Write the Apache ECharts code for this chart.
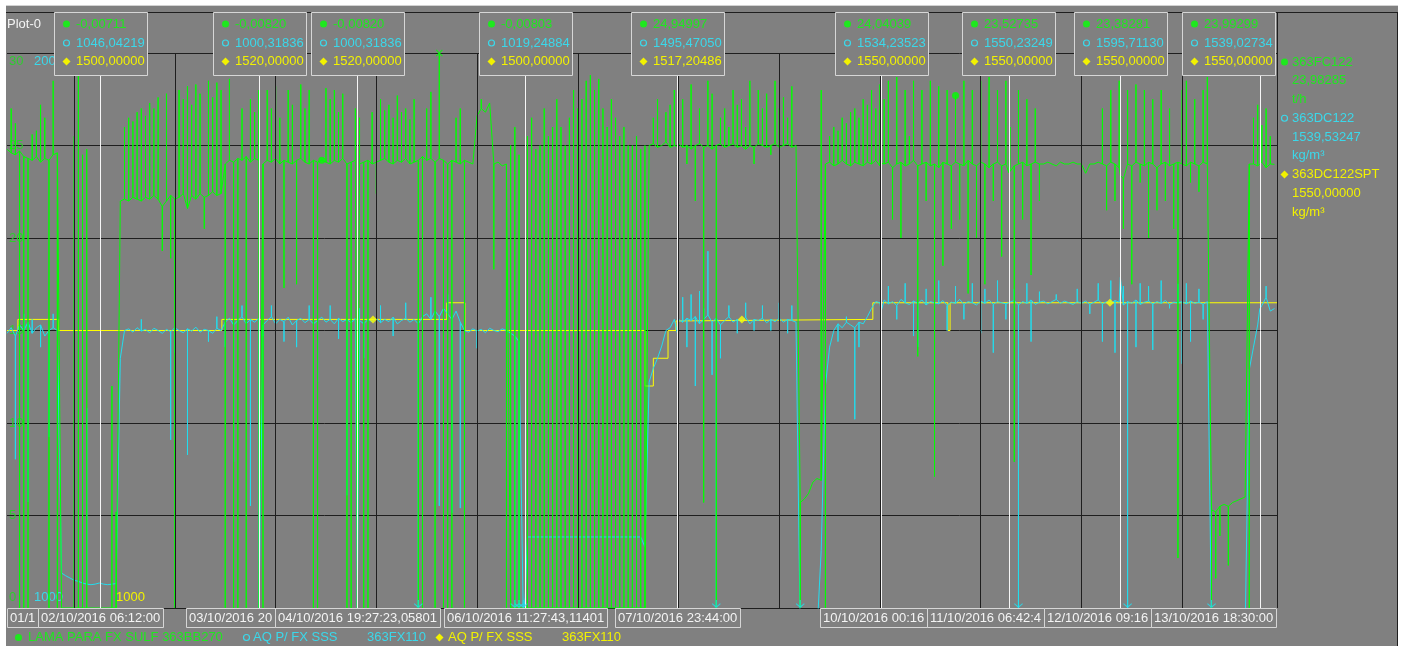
<!DOCTYPE html>
<html>
<head>
<meta charset="utf-8">
<title>Plot-0</title>
<script src="https://cdn.jsdelivr.net/npm/echarts@6/dist/echarts.min.js"></script>
<style>
  html, body { margin: 0; padding: 0; background: #ffffff; }
  #chart { width: 1402px; height: 646px; }
</style>
</head>
<body>
<div id="chart"></div>
<script>
// Time is counted in hours from 01/10/2016 00:00. Trend samples are hourly from 08:00.
const startHour = 8;
const axisStartHour = 8.0;
const axisEndHour = 310.6;

// 363FC122 - LAMA PARA FX SULF 363BB270 (t/h), hourly level of the trace
const greenFlow = [
  /* 01/10 08h */ 24.8, 24.6, 24.5, 24.7, 24.4, 24.3, 24.2, 24.4, 24.1, 24.3, 24.2, 24.5, 24.6, 0, 0, 0,
  /* 02/10 */ 0, 0, 0, 0, 0, 0, 0, 0, 0, 0, 0, 22.0, 22.1, 22.0, 22.2, 22.1, 22.0, 22.2, 22.1, 22.3, 22.1, 21.7, 22.0, 22.3,
  /* 03/10 */ 22.1, 22.2, 22.4, 21.6, 22.3, 22.1, 22.4, 22.2, 22.3, 22.5, 22.3, 22.4, 24.0, 24.2, 24.1, 24.3, 24.2, 24.4, 24.1, 24.3, 24.2, 24.0, 24.2, 24.1,
  /* 04/10 */ 24.3, 24.0, 24.2, 24.1, 24.0, 24.2, 24.3, 24.1, 24.0, 24.2, 24.1, 24.2, 24.1, 24.0, 24.2, 24.1, 24.3, 24.0, 24.1, 24.2, 24.0, 24.1, 24.2, 24.0,
  /* 05/10 */ 24.1, 24.2, 24.3, 24.1, 24.0, 24.2, 24.1, 24.3, 24.0, 24.1, 24.2, 24.4, 24.2, 24.3, 24.1, 24.3, 24.2, 24.0, 24.2, 24.1, 24.0, 24.2, 24.1, 24.0,
  /* 06/10 */ 26.6, 27.0, 26.8, 27.3, 24.0, 24.1, 23.9, 24.0, 0, 0, 0, 0, 0, 0, 0, 0, 0, 0, 0, 0, 0, 0, 0, 0,
  /* 07/10 */ 0, 0, 0, 0, 0, 0, 0, 0, 0, 0, 0, 0, 0, 0, 0, 0, 0, 25.0, 25.1, 24.9, 25.0, 25.2, 24.9, 25.0,
  /* 08/10 */ 25.1, 24.9, 25.0, 24.8, 25.0, 25.1, 24.9, 25.0, 24.8, 25.0, 25.1, 24.9, 25.0, 25.1, 24.9, 25.0, 24.8, 25.0, 24.9, 25.1, 25.0, 24.9, 25.0, 25.1,
  /* 09/10 */ 24.9, 25.0, 25.1, 24.9, 25.0, 5.7, 5.9, 6.2, 6.8, 7.0, 6.9, 24.0, 24.1, 23.9, 24.0, 24.2, 24.0, 23.9, 24.1, 24.0, 23.9, 24.1, 24.0, 24.2,
  /* 10/10 */ 23.9, 24.0, 24.1, 23.8, 24.0, 24.1, 23.9, 24.0, 24.2, 23.9, 24.0, 24.1, 23.9, 24.0, 23.8, 24.1, 24.0, 23.9, 24.1, 24.0, 23.9, 24.2, 24.0, 23.9,
  /* 11/10 */ 24.1, 24.0, 23.8, 24.0, 24.1, 23.9, 24.0, 23.6, 23.9, 24.0, 24.1, 23.9, 24.0, 24.1, 24.0, 24.0, 24.1, 24.0, 23.9, 24.1, 24.0, 24.0, 24.1, 24.0,
  /* 12/10 */ 24.0, 23.5, 24.0, 24.0, 24.1, 24.0, 23.9, 24.1, 24.0, 23.8, 23.2, 24.0, 23.9, 24.1, 24.0, 23.9, 24.1, 24.0, 23.8, 24.0, 24.1, 23.9, 24.0, 24.1,
  /* 13/10 */ 24.0, 23.9, 24.1, 24.0, 23.9, 24.1, 24.0, 5.3, 5.2, 5.5, 5.6, 5.5, 5.7, 5.8, 5.9, 6.0, 24.0, 24.0, 23.9, 24.1, 23.8, 24.0, 23.98285
];

// Short excursions of 363FC122 inside an hour: [hour, value]
const greenSpikes = [
  [9, 27.0], [10, 26.2], [11, 0], [12, 0], [13, 0], [14, 25.6], [15, 25.8], [16, 27.2], [17, 26.5], [18, 0], [19, 28.5], [20, 0],
  [24, 25.5], [25, 30], [26, 24.5], [27, 24.8], [33, 12.0], [34, 5.2], [36, 26.0], [37, 26.5], [38, 26.3], [39, 26.8], [40, 27.0],
  [41, 26.6], [42, 27.3], [43, 27.0], [44, 27.6], [45, 19.3], [46, 27.8], [47, 18.9],
  [48, 0], [49, 28.0], [50, 27.5], [51, 28.2], [52, 27.2], [53, 28.3], [54, 27.8], [55, 20.5], [56, 28.5], [57, 27.6], [58, 28.4],
  [59, 28.0], [60, 0], [61, 28.6], [62, 0], [63, 0], [64, 27.0], [65, 0], [66, 27.5], [67, 26.8], [68, 28.0], [69, 0], [70, 28.0], [71, 27.0],
  [72, 28.2], [73, 26.5], [74, 17.3], [75, 28.0], [76, 27.2], [77, 17.5], [78, 28.3], [79, 27.0], [80, 28.0], [81, 0], [82, 0],
  [84, 28.1], [85, 27.5], [86, 28.0], [87, 26.8], [88, 27.8], [89, 0], [90, 0], [91, 27.0], [92, 26.5], [93, 0], [94, 0], [95, 26.8],
  [96, 22.4], [97, 27.5], [98, 26.9], [99, 27.2], [100, 26.5], [101, 27.7], [102, 26.8], [103, 27.0], [104, 26.4], [105, 27.5],
  [106, 0], [107, 0], [108, 27.0], [109, 27.9], [110, 0], [111, 30], [112, 0], [113, 0], [114, 0], [115, 26.5], [116, 27.0], [117, 0],
  [121, 27.5], [124, 18.3], [127, 0], [128, 25.0], [129, 26.0], [130, 24.5], [132, 25.5], [133, 26.5], [134, 24.8], [135, 25.0],
  [136, 27.0], [137, 25.5], [138, 26.0], [139, 27.5], [140, 26.0], [141, 25.0], [142, 26.5], [143, 28.0],
  [144, 27.0], [145, 27.5], [146, 28.5], [147, 28.8], [148, 28.0], [149, 28.6], [150, 27.0], [151, 26.0], [152, 27.5], [153, 26.5],
  [154, 25.5], [155, 26.0], [156, 25.0], [157, 25.0], [158, 25.5], [159, 24.8], [160, 25.0], [162, 26.5], [163, 27.5], [165, 26.8],
  [166, 27.2], [167, 28.0],
  [169, 27.5], [170, 24.0], [171, 28.3], [172, 22.0], [173, 27.0], [174, 5.7], [175, 28.5], [176, 27.8], [177, 0], [178, 26.5],
  [179, 27.0], [180, 26.0], [181, 28.0], [182, 27.2], [183, 27.5], [184, 26.0], [185, 28.5], [186, 24.0], [187, 28.0], [188, 27.0],
  [189, 27.8], [190, 24.5], [191, 28.5],
  [192, 27.0], [193, 27.6], [194, 26.5], [195, 28.2], [197, 0], [202, 28.0], [203, 0], [204, 25.5], [205, 26.0], [206, 25.8],
  [207, 26.5], [208, 26.2], [209, 26.8], [210, 27.0], [211, 26.5], [212, 27.5], [213, 27.2], [214, 28.0], [215, 27.0],
  [216, 28.3], [217, 27.5], [218, 28.5], [219, 21.0], [220, 28.7], [221, 20.0], [222, 28.0], [223, 25.5], [224, 28.5], [225, 13.6],
  [226, 28.0], [227, 22.0], [228, 28.5], [229, 7.1], [230, 28.2], [231, 18.5], [232, 28.0], [233, 20.5], [234, 27.7], [235, 21.0],
  [236, 28.5], [237, 17.0], [238, 28.0], [239, 20.0],
  [240, 28.5], [241, 17.5], [242, 28.7], [243, 22.0], [244, 28.0], [245, 19.0], [246, 28.5], [247, 26.0], [248, 7.9], [249, 28.0],
  [250, 21.0], [251, 27.5], [252, 18.0], [253, 27.0], [254, 22.0],
  [269, 27.0], [270, 21.5], [271, 28.0], [272, 22.0], [273, 28.5], [274, 20.5], [275, 28.0], [276, 17.5], [277, 28.3], [278, 23.0],
  [279, 28.0], [280, 20.0], [281, 27.5], [282, 21.5], [283, 28.0], [284, 22.0], [285, 27.0], [286, 20.5], [287, 2.7],
  [288, 28.0], [289, 28.5], [290, 23.0], [291, 27.5], [292, 22.5], [293, 28.0], [294, 28.7], [295, 0], [296, 1.6], [297, 3.9],
  [299, 2.3], [304, 0], [305, 26.5], [306, 27.2], [307, 26.1], [308, 27.0], [309, 25.5]
];

// 363DC122 - AQ P/ FX SSS 363FX110 density (kg/m³), hourly level of the trace
const cyanDensity = [
  /* 01/10 08h */ 1495, 1505, 1490, 1510, 1500, 1515, 1495, 1505, 1510, 1490, 1500, 1505, 1500, 1063, 1058, 1054,
  /* 02/10 */ 1050, 1048, 1045, 1043, 1042, 1043, 1045, 1043, 1042, 1043, 1044, 1450, 1500, 1503, 1497, 1505, 1499, 1502, 1496, 1504, 1500, 1495, 1502, 1498,
  /* 03/10 */ 1505, 1500, 1496, 1503, 1499, 1506, 1497, 1502, 1500, 1495, 1504, 1500, 1515, 1522, 1510, 1518, 1525, 1512, 1520, 1515, 1522, 1510, 1518, 1525,
  /* 04/10 */ 1512, 1520, 1516, 1524, 1510, 1518, 1522, 1514, 1520, 1512, 1518, 1524, 1515, 1520, 1512, 1522, 1516, 1520, 1514, 1522, 1518, 1512, 1520, 1516,
  /* 05/10 */ 1522, 1514, 1520, 1516, 1524, 1512, 1518, 1522, 1515, 1520, 1512, 1525, 1530, 1520, 1535, 1525, 1540, 1530, 1520, 1535, 1515, 1500, 1497, 1503,
  /* 06/10 */ 1499, 1502, 1496, 1504, 1500, 1498, 1503, 1500, 1495, 1490, 1480, 990, 1128, 1128, 1128, 1128, 1128, 1128, 1128, 1128, 1128, 1128, 1128, 1128,
  /* 07/10 */ 1128, 1128, 1128, 1128, 1128, 1128, 1128, 1128, 1128, 1128, 1128, 1128, 1128, 1128, 1128, 1128, 1110, 1407, 1432, 1450, 1472, 1500, 1505, 1520,
  /* 08/10 */ 1520, 1515, 1522, 1518, 1525, 1512, 1520, 1528, 1515, 1522, 1510, 1518, 1525, 1515, 1520, 1516, 1524, 1512, 1520, 1518, 1522, 1514, 1520, 1516,
  /* 09/10 */ 1522, 1515, 1520, 1518, 1515, 960, 950, 950, 950, 955, 1104, 1400, 1470, 1500, 1512, 1505, 1515, 1510, 1505, 1515, 1512, 1525, 1540, 1552,
  /* 10/10 */ 1550, 1555, 1548, 1552, 1545, 1556, 1550, 1547, 1553, 1549, 1555, 1546, 1552, 1550, 1548, 1554, 1545, 1551, 1549, 1556, 1547, 1552, 1550, 1546,
  /* 11/10 */ 1553, 1549, 1555, 1547, 1552, 1550, 1548, 1551, 1554, 1546, 1552, 1549, 1555, 1547, 1551, 1553, 1548, 1552, 1556, 1549, 1553, 1550, 1547, 1552,
  /* 12/10 */ 1549, 1553, 1547, 1551, 1555, 1548, 1552, 1549, 1554, 1551, 1546, 1552, 1549, 1555, 1547, 1551, 1553, 1548, 1552, 1549, 1554, 1547, 1551, 1550,
  /* 13/10 */ 1552, 1548, 1553, 1549, 1551, 1547, 1552, 960, 950, 950, 950, 950, 950, 950, 950, 955, 1430, 1470, 1510, 1545, 1560, 1535, 1539.53247
];

// Short excursions of 363DC122: [hour, value]
const cyanSpikes = [
  [10, 1268], [12, 1530], [13, 1191], [14, 1520], [16, 1470], [18, 1308], [19, 1530],
  [26, 1396], [27, 1360], [40, 1520], [47, 1303],
  [48, 1460], [51, 1276], [56, 1480], [58, 1525], [60, 1470], [62, 1263], [64, 1545], [66, 1184], [69, 1490], [71, 1545],
  [74, 1480], [77, 1470], [80, 1545], [82, 1407], [85, 1545], [87, 1485], [89, 1203], [92, 1540], [93, 1450],
  [97, 1545], [100, 1490], [103, 1550], [106, 960], [107, 1072], [109, 1560], [111, 1184], [112, 1560], [113, 1565], [114, 1171], [116, 1180],
  [120, 1468], [129, 960], [130, 960],
  [169, 1560], [170, 1470], [171, 1565], [172, 1400], [173, 1571], [174, 1540], [175, 1643], [176, 1420], [177, 960], [178, 1450],
  [180, 1545], [182, 1495], [184, 1550], [186, 1500], [188, 1545], [190, 1500],
  [192, 1550], [194, 1495], [195, 1545], [206, 1480], [208, 1525], [210, 1340], [211, 1470],
  [218, 1580], [220, 1520], [222, 1585], [224, 1490], [225, 1470], [227, 1575], [229, 1510], [230, 1590], [232, 1500], [234, 1580],
  [236, 1520], [238, 1585],
  [240, 1495], [241, 1575], [243, 1460], [244, 1590], [246, 1520], [248, 1575], [249, 960], [251, 1585], [252, 1480], [254, 1570],
  [258, 1565], [263, 1575],
  [266, 1530], [268, 1585], [269, 1480], [271, 1590], [272, 1460], [274, 1580], [275, 960], [277, 1470], [278, 1585], [280, 1580],
  [281, 1465], [283, 1590], [285, 1540], [287, 1584],
  [288, 1440], [289, 1585], [290, 1480], [292, 1575], [293, 1520], [308, 1580]
];

// 363DC122SPT - density setpoint (kg/m³): [hour, value] held until the next change
const setpointSteps = [
  [8, 1500], [10.6, 1520], [20.2, 1500], [59.2, 1520], [112.8, 1550], [117.1, 1500], [160.0, 1400], [162.0, 1450],
  [165.5, 1500], [167.4, 1517.20486], [168.0, 1520], [214.3, 1550], [232.2, 1500], [232.7, 1550], [310.6, 1550]
];

// Midnights (day grid)
const dayLines = [24, 48, 72, 96, 120, 144, 168, 192, 216, 240, 264, 288];

// Trend symbols shown along the traces
const greenMarkerHours = [83, 234];
const setpointMarkerHours = [95.2, 183.1, 270.8];

// Cursors
const cursorHours = [30.2, 68.05, 91.456, 131.462, 167.733, 216.27, 246.71, 273.27, 306.5];
const cursorGreen = [-0.00711, -0.00820, -0.00820, -0.00803, 24.94997, 24.04039, 23.52735, 23.38281, 23.99299];
const cursorCyan = [1046.04219, 1000.31836, 1000.31836, 1019.24884, 1495.47050, 1534.23523, 1550.23249, 1595.71130, 1539.02734];
const cursorSetpoint = [1500, 1520, 1520, 1500, 1517.20486, 1550, 1550, 1550, 1550];
const cursorTimeLabels = [
  '02/10/2016 06:12:00', '03/10/2016 20', '04/10/2016 19:27:23,05801', '06/10/2016 11:27:43,11401',
  '07/10/2016 23:44:00', '10/10/2016 00:16', '11/10/2016 06:42:4', '12/10/2016 09:16', '13/10/2016 18:30:00'
];
const axisStartLabel = '01/1';

// Tags
const tagNames = ['363FC122', '363DC122', '363DC122SPT'];
const tagValues = [23.98285, 1539.53247, 1550.0];
const tagUnits = ['t/h', 'kg/m³', 'kg/m³'];
const legendNames = ['LAMA PARA FX SULF 363BB270', 'AQ P/ FX SSS', 'AQ P/ FX SSS'];
const legendTags = ['', '363FX110', '363FX110'];

// ---------------------------------------------------------------------------
const FONT_FAMILY = '"Liberation Sans", Arial, sans-serif';
const FONT = '13px ' + FONT_FAMILY;
const GREEN = '#00ff00', CYAN = '#22ddee', YELLOW = '#ffff00';
const GREEN_TXT = '#1ee81e', CYAN_TXT = '#3ad8ea', YELLOW_TXT = '#f2f200', WHITE_TXT = '#f4f4f4';
const GRID = '#1e1e1e', BOX = '#d6d6d6', BG = '#808080';
const GREEN_MIN = 0, GREEN_MAX = 30, DENS_MIN = 1000, DENS_MAX = 2000;

function buildTrace(base, spikes, cursorVals) {
  const spikeAt = new Map(spikes.map(([h, v]) => [h, v]));
  const pts = [];
  base.forEach((v, i) => {
    const h = startHour + i;
    pts.push([h, v]);
    if (spikeAt.has(h)) { pts.push([h, spikeAt.get(h)]); pts.push([h, v]); }
  });
  cursorHours.forEach((h, k) => pts.push([h, cursorVals[k]]));
  pts.sort((a, b) => a[0] - b[0]);
  return pts;
}
function setpointAt(h) {
  let v = setpointSteps[0][1];
  for (const [t, s] of setpointSteps) { if (t <= h) v = s; }
  return v;
}
function fmt(v) { return v.toFixed(5).replace('.', ','); }

const greenTrace = buildTrace(greenFlow, greenSpikes, cursorGreen);
const cyanTrace = buildTrace(cyanDensity, cyanSpikes, cursorCyan);
const spikeMap = new Map(greenSpikes.map(([h, v]) => [h, v]));
const greenMarks = greenMarkerHours.map(h => [h, spikeMap.has(h) ? spikeMap.get(h) : greenFlow[h - startHour]]);
const setpointMarks = setpointMarkerHours.map(h => [h, setpointAt(h)]);

// out-of-range indications: crosses where the flow touches its scale top,
// arrows where the density leaves the bottom of its scale
const greenOverTop = greenTrace.filter(p => p[1] >= GREEN_MAX).map(p => [p[0], GREEN_MAX]);
const cyanBelow = cyanTrace.filter((p, i) => p[1] < DENS_MIN && (i === 0 || cyanTrace[i - 1][1] >= DENS_MIN))
  .map(p => [p[0], DENS_MIN]);

function edgeLabels(color, topText, bottomText, mid) {
  return {
    inside: true, margin: 2, showMinLabel: true, showMaxLabel: true,
    formatter: v => {
      if (String(v) === topText) return '{t|' + v + '}';
      if (String(v) === bottomText) return '{b|' + v + '}';
      return mid ? '{m|' + v + '}' : '';
    },
    rich: {
      t: { color, fontSize: 13, fontFamily: FONT_FAMILY, padding: [16, 0, 0, 0] },
      b: { color, fontSize: 13, fontFamily: FONT_FAMILY, padding: [0, 0, 22, 0] },
      m: { color, fontSize: 13, fontFamily: FONT_FAMILY }
    }
  };
}
const hiddenAxisParts = { axisLine: { show: false }, axisTick: { show: false } };

const CROSS = 'path://M0,1.2L3.8,5L5,3.8L1.2,0L5,-3.8L3.8,-5L0,-1.2L-3.8,-5L-5,-3.8L-1.2,0L-5,3.8L-3.8,5Z';
const ARROW = 'path://M-0.6,-8L0.6,-8L0.6,-1.6L4,-4.6L4.8,-3.8L0,0.6L-4.8,-3.8L-4,-4.6L-0.6,-1.6Z';

const chart = echarts.init(document.getElementById('chart'), null, { renderer: 'canvas', width: 1402, height: 646 });

chart.setOption({
  animation: false,
  backgroundColor: BG,
  grid: { left: 7, right: 125, top: 53, bottom: 38 },
  xAxis: {
    type: 'value', min: axisStartHour, max: axisEndHour,
    axisLine: { show: false }, axisTick: { show: false }, axisLabel: { show: false }, splitLine: { show: false }
  },
  yAxis: [
    Object.assign({
      type: 'value', min: GREEN_MIN, max: GREEN_MAX, interval: 5, position: 'left',
      splitLine: { show: true, lineStyle: { color: GRID, width: 1 } },
      axisLabel: edgeLabels('#2ecc2e', '30', '0', true)
    }, hiddenAxisParts),
    Object.assign({
      type: 'value', min: DENS_MIN, max: DENS_MAX, interval: 1000, position: 'left', offset: -25,
      splitLine: { show: false },
      axisLabel: edgeLabels(CYAN_TXT, '2000', '1000', false)
    }, hiddenAxisParts),
    Object.assign({
      type: 'value', min: DENS_MIN, max: DENS_MAX, interval: 1000, position: 'left', offset: -107,
      splitLine: { show: false },
      axisLabel: edgeLabels(YELLOW_TXT, '2000', '1000', false)
    }, hiddenAxisParts)
  ],
  series: [
    {
      name: '363DC122SPT', type: 'line', yAxisIndex: 2, step: 'end', data: setpointSteps,
      symbol: 'none', lineStyle: { color: YELLOW, width: 1 }, z: 2, silent: true,
      markLine: {
        silent: true, symbol: ['none', 'none'], label: { show: false },
        lineStyle: { color: GRID, width: 1, type: 'solid' },
        data: dayLines.map(h => ({ xAxis: h }))
      }
    },
    {
      name: '363DC122', type: 'line', yAxisIndex: 1, data: cyanTrace,
      symbol: 'none', lineStyle: { color: CYAN, width: 1 }, z: 3, silent: true
    },
    {
      name: '363FC122', type: 'line', yAxisIndex: 0, data: greenTrace,
      symbol: 'none', lineStyle: { color: GREEN, width: 1 }, z: 4, silent: true
    },
    {
      type: 'scatter', yAxisIndex: 0, data: greenMarks, symbol: 'circle', symbolSize: 7,
      itemStyle: { color: GREEN }, z: 6, silent: true,
      markLine: {
        silent: true, symbol: ['none', 'none'], label: { show: false },
        lineStyle: { color: '#f6f6f6', width: 1, type: 'solid' },
        data: cursorHours.map(h => ({ xAxis: h }))
      }
    },
    {
      type: 'scatter', yAxisIndex: 2, data: setpointMarks, symbol: 'diamond', symbolSize: 8,
      itemStyle: { color: YELLOW }, z: 6, silent: true
    },
    {
      type: 'scatter', yAxisIndex: 0, data: greenOverTop, symbol: CROSS, symbolSize: 7,
      itemStyle: { color: GREEN }, z: 6, silent: true, clip: false
    },
    {
      type: 'scatter', yAxisIndex: 1, data: cyanBelow, symbol: ARROW, symbolSize: [9, 8],
      symbolKeepAspect: false, symbolOffset: [0, -4], itemStyle: { color: CYAN }, z: 6, silent: true, clip: false
    }
  ]
});

// ---------------------------------------------------------------------------
// Frame, cursor read-outs and legends
const px = h => chart.convertToPixel({ xAxisIndex: 0 }, h);
const plotLeft = px(axisStartHour), plotRight = px(axisEndHour);
const measureCtx = document.createElement('canvas').getContext('2d');
measureCtx.font = FONT;
const textWidth = s => measureCtx.measureText(s).width;

function text(str, x, y, color, align) {
  return {
    type: 'text', x, y, silent: true, z: 50,
    style: { text: str, fill: color, font: FONT, align: align || 'left', verticalAlign: 'middle',
             textAlign: align || 'left', textVerticalAlign: 'middle' }
  };
}
function symbolShape(kind, cx, cy, color) {
  if (kind === 'dot') return { type: 'circle', shape: { cx, cy, r: 3.5 }, style: { fill: color }, z: 50, silent: true };
  if (kind === 'ring') return { type: 'circle', shape: { cx, cy, r: 3 }, style: { fill: 'transparent', stroke: color, lineWidth: 1.2 }, z: 50, silent: true };
  return { type: 'polygon', shape: { points: [[cx, cy - 4], [cx + 4, cy], [cx, cy + 4], [cx - 4, cy]] }, style: { fill: color }, z: 50, silent: true };
}
function hline(x1, x2, y, color) {
  return { type: 'line', shape: { x1, y1: y, x2, y2: y }, style: { stroke: color, lineWidth: 1 }, z: 40, silent: true };
}
function vline(x, y1, y2, color) {
  return { type: 'line', shape: { x1: x, y1, x2: x, y2 }, style: { stroke: color, lineWidth: 1 }, z: 40, silent: true };
}
function box(x, y, w, h) {
  return { type: 'rect', shape: { x: x + 0.5, y: y + 0.5, width: w, height: h }, style: { fill: BG, stroke: BOX, lineWidth: 1 }, z: 45, silent: true };
}

const g = [];
// window edges
g.push({ type: 'rect', shape: { x: 0, y: 0, width: 1402, height: 5 }, style: { fill: '#ffffff' }, z: 60, silent: true });
g.push({ type: 'rect', shape: { x: 0, y: 0, width: 6, height: 646 }, style: { fill: '#ffffff' }, z: 60, silent: true });
g.push({ type: 'rect', shape: { x: 1398, y: 0, width: 4, height: 646 }, style: { fill: '#ffffff' }, z: 60, silent: true });
g.push(Object.assign(hline(6, 1398, 5.5, '#d2d2d2'), { z: 61 }));
// plot frame
g.push(hline(6, 1398, 12.5, GRID));
g.push(vline(Math.round(plotRight) + 0.5, 12, 608, GRID));
g.push(vline(1397.5, 12, 646, GRID));
g.push(text('Plot-0', 7, 24, WHITE_TXT));

// cursor read-out boxes
const BOX_W = 93, BOX_TOP = 12, BOX_H = 63, ROWS = [24, 43, 61.5];
cursorHours.forEach((h, k) => {
  const cx = px(h);
  let left = cx - BOX_W / 2;
  if (left + BOX_W > plotRight - 2) left = plotRight - 2 - BOX_W;
  if (left < plotLeft) left = plotLeft;
  left = Math.round(left);
  g.push(box(left, BOX_TOP, BOX_W, BOX_H));
  const kinds = ['dot', 'ring', 'diamond'];
  const colors = [GREEN_TXT, CYAN_TXT, YELLOW_TXT];
  const vals = [cursorGreen[k], cursorCyan[k], cursorSetpoint[k]];
  for (let r = 0; r < 3; r++) {
    g.push(symbolShape(kinds[r], left + 12.5, ROWS[r], colors[r]));
    g.push(text(fmt(vals[r]), left + 22, ROWS[r], colors[r]));
  }
});

// cursor time labels along the bottom
const LBL_TOP = 608, LBL_H = 19;
const labels = [{ t: axisStartLabel, cx: plotLeft }].concat(cursorHours.map((h, k) => ({ t: cursorTimeLabels[k], cx: px(h) })));
labels.forEach(l => { l.w = Math.round(textWidth(l.t) + 6); l.left = l.cx - l.w / 2; l.right = l.cx + l.w / 2; });
for (let i = labels.length - 1; i >= 0; i--) {
  const l = labels[i];
  const limit = i === labels.length - 1 ? plotRight - 1 : labels[i + 1].left;
  if (l.right > limit) { l.right = limit; l.left = l.right - l.w; }
}
labels.forEach(l => { if (l.left < plotLeft) { l.left = plotLeft; l.right = l.left + l.w; } });
labels.forEach(l => {
  const left = Math.round(l.left);
  g.push(box(left, LBL_TOP, l.w, LBL_H));
  g.push(text(l.t, left + 3, LBL_TOP + 10.5, WHITE_TXT));
});

// legend along the bottom
const LEG_Y = 637.5;
const legendLayout = [
  { sym: 18.5, name: 28, tag: 0, kind: 'dot', color: GREEN_TXT },
  { sym: 246.5, name: 253, tag: 367, kind: 'ring', color: CYAN_TXT },
  { sym: 439.5, name: 448, tag: 562, kind: 'diamond', color: YELLOW_TXT }
];
legendLayout.forEach((l, k) => {
  g.push(symbolShape(l.kind, l.sym, LEG_Y, l.color));
  g.push(text(legendNames[k], l.name, LEG_Y, l.color));
  if (legendTags[k]) g.push(text(legendTags[k], l.tag, LEG_Y, l.color));
});

// tag panel on the right
const TAG_X = Math.round(plotRight) + 15, TAG_TOP = 62, TAG_STEP = 18.75;
['dot', 'ring', 'diamond'].forEach((kind, k) => {
  const color = [GREEN_TXT, CYAN_TXT, YELLOW_TXT][k];
  const y0 = TAG_TOP + k * 3 * TAG_STEP;
  g.push(symbolShape(kind, TAG_X - 7.5, y0, color));
  g.push(text(tagNames[k], TAG_X, y0, color));
  g.push(text(fmt(tagValues[k]), TAG_X, y0 + TAG_STEP, color));
  g.push(text(tagUnits[k], TAG_X, y0 + 2 * TAG_STEP, color));
});

chart.setOption({ graphic: g });
</script>
</body>
</html>
